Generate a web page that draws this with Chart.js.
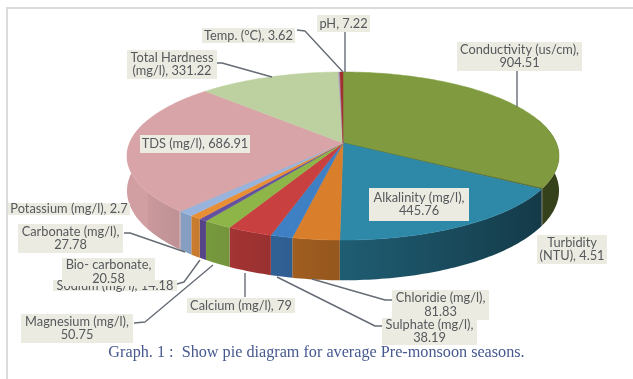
<!DOCTYPE html>
<html>
<head>
<meta charset="utf-8">
<title>Pre-monsoon pie</title>
<script src="https://cdn.jsdelivr.net/npm/chart.js@4"></script>
<style>
  html, body { margin: 0; padding: 0; background: #fff; overflow: hidden; }
  #wrap { position: relative; width: 633px; height: 379px; }
  /* the reference is a soft scan */
  canvas { display: block; filter: blur(0.5px); }
</style>
</head>
<body>
<div id="wrap"><canvas id="pie" width="633" height="379"></canvas></div>
<script>
// Data, clockwise from the top
const categories = [
  "Conductivity (us/cm)", "Turbidity (NTU)", "Alkalinity (mg/l)", "Chloridie (mg/l)",
  "Sulphate (mg/l)", "Calcium (mg/l)", "Magnesium (mg/l)", "Sodium (mg/l)",
  "Bio- carbonate", "Carbonate (mg/l)", "Potassium (mg/l)", "TDS (mg/l)",
  "Total Hardness (mg/l)", "Temp. (°C)", "pH"
];
const values = [904.51, 4.51, 445.76, 81.83, 38.19, 79, 50.75, 14.18, 20.58, 27.78, 2.7, 686.91, 331.22, 3.62, 7.22];
const sliceColors = [
  "#7f9a3f", "#4f5f24", "#2e88a8", "#d97f2b", "#3f7fc4", "#c8403f", "#8db548", "#6450a0",
  "#e88f35", "#98b4dc", "#c3a0a8", "#d8a4a8", "#bdd1a0", "#a99cc4", "#a03030"
];
const caption = "Graph. 1 :  Show pie diagram for average Pre-monsoon seasons.";

// Pie seen in perspective
const view = { x: 343, y: 143, a: 213.4, b: 82, p: 0.155, depth: 34 };

// Label boxes, same order as categories. br = where the text wraps, line = leader
const boxes = [
  { x: 457, y: 42, w: 125, h: 29, br: "904", line: [[517, 71], [517, 107]] },
  { x: 537, y: 235, w: 70, h: 29, br: "(NTU" },
  { x: 369, y: 188, w: 100, h: 33, br: "445" },
  { x: 392, y: 290, w: 97, h: 30, br: "81.", line: [[392, 300], [385, 300], [312, 279]] },
  { x: 382, y: 318, w: 95, h: 27, br: "38.", line: [[382, 326], [375, 326], [277, 277]] },
  { x: 187, y: 298, w: 108, h: 15, line: [[245, 273], [245, 297]] },
  { x: 21, y: 314, w: 112, h: 29, br: "50.", line: [[134, 323], [145, 322], [213, 265]] },
  { x: 53, y: 280, w: 124, h: 11, line: [[177, 284], [184, 282], [200, 260]] },
  { x: 62, y: 258, w: 93, h: 28, br: "20." },
  { x: 18, y: 224, w: 105, h: 29, br: "27.", line: [[124, 233], [130, 233], [185, 252]] },
  { x: 8, y: 203, w: 122, h: 12 },
  { x: 140, y: 135, w: 110, h: 18 },
  { x: 127, y: 50, w: 90, h: 29, br: "(mg", line: [[217, 63], [222, 63], [272, 77]] },
  { x: 202, y: 28, w: 93, h: 15, line: [[297, 30], [305, 31], [343, 72]] },
  { x: 317, y: 15, w: 53, h: 17, line: [[345, 32], [345, 72]] }
];

// Where an angle of the arc lands on the rim
const rim = (angle) => {
  const d = 1 - view.p * Math.sin(angle);
  return {
    x: view.x + (view.a * Math.cos(angle)) / d,
    y: view.y + (view.b * Math.sin(angle)) / d,
    drop: view.depth / d
  };
};

const shade = (hex, angle) => {
  const f = 0.68 - 0.3 * Math.cos(angle);
  const n = parseInt(hex.slice(1), 16);
  return `rgb(${((n >> 16) & 255) * f},${((n >> 8) & 255) * f},${(n & 255) * f})`;
};

const rimAngles = (from, to) => {
  const step = Math.PI / 180;
  const list = [];
  for (let a = from; a < to; a += step) list.push(a);
  list.push(to);
  return list;
};

const drawPie = (ctx, arcs) => {
  // Side wall, only the part facing us
  arcs.forEach((arc, i) => {
    const from = Math.max(arc.startAngle, -0.3);
    const to = Math.min(arc.endAngle, Math.PI + 0.3);
    if (from >= to) return;
    const list = rimAngles(from, to).map(rim);
    const first = list[0];
    const last = list[list.length - 1];
    const grad = ctx.createLinearGradient(first.x, 0, last.x + 0.01, 0);
    rimAngles(from, to).forEach((a) => {
      grad.addColorStop(Math.max(0, Math.min(1, (rim(a).x - first.x) / (last.x + 0.01 - first.x))), shade(sliceColors[i], a));
    });
    ctx.fillStyle = grad;
    ctx.beginPath();
    list.forEach((p) => ctx.lineTo(p.x, p.y));
    list.slice().reverse().forEach((p) => ctx.lineTo(p.x, p.y + p.drop));
    ctx.closePath();
    ctx.fill();
  });
  // Top face
  arcs.forEach((arc, i) => {
    ctx.fillStyle = sliceColors[i];
    ctx.strokeStyle = sliceColors[i];
    ctx.lineWidth = 0.5;
    ctx.beginPath();
    ctx.moveTo(view.x, view.y);
    rimAngles(arc.startAngle, arc.endAngle).map(rim).forEach((p) => ctx.lineTo(p.x, p.y));
    ctx.closePath();
    ctx.fill();
    ctx.stroke();
  });
};

const drawLabels = (ctx) => {
  ctx.lineJoin = "round";
  boxes.forEach((box) => {
    if (!box.line) return;
    ctx.strokeStyle = "#666c75";
    ctx.lineWidth = 1.4;
    ctx.beginPath();
    box.line.forEach(([x, y], k) => (k ? ctx.lineTo(x, y) : ctx.moveTo(x, y)));
    ctx.stroke();
  });
  ctx.font = "12.8px Lato";
  ctx.textAlign = "center";
  ctx.textBaseline = "middle";
  boxes.forEach((box, i) => {
    const text = `${categories[i]}, ${values[i]}`;
    const cut = box.br ? text.indexOf(box.br) : -1;
    const lines = cut > 0 ? [text.slice(0, cut).trim(), text.slice(cut)] : [text];
    ctx.fillStyle = "#ecebe1";
    ctx.fillRect(box.x, box.y, box.w, box.h);
    ctx.fillStyle = "#55585c";
    const cx = box.x + box.w / 2;
    const cy = box.y + box.h / 2;
    lines.forEach((line, k) => ctx.fillText(line, cx, cy + (k - (lines.length - 1) / 2) * 13.5));
  });
};

// Page frame of the scanned figure
const drawFrame = (ctx) => {
  ctx.fillStyle = "#dcdcdc";
  ctx.fillRect(6, 7, 627, 2);
  ctx.fillRect(6, 7, 2, 372);
};

const pie3d = {
  id: "pie3d",
  beforeDatasetsDraw(chart) {
    const ctx = chart.ctx;
    ctx.save();
    drawFrame(ctx);
    drawPie(ctx, chart.getDatasetMeta(0).data);
    drawLabels(ctx);
    ctx.restore();
    return false;
  }
};

new Chart(document.getElementById("pie"), {
  type: "pie",
  data: {
    labels: categories,
    datasets: [{ data: values, backgroundColor: sliceColors, borderWidth: 0 }]
  },
  plugins: [pie3d],
  options: {
    responsive: false,
    animation: false,
    plugins: {
      legend: { display: false },
      tooltip: { enabled: false },
      title: {
        display: true,
        text: caption,
        position: "bottom",
        color: "#46598f",
        font: { family: '"Liberation Serif"', size: 16.2, weight: "normal" },
        padding: { top: 0, bottom: 17 }
      }
    }
  }
});
</script>
</body>
</html>
